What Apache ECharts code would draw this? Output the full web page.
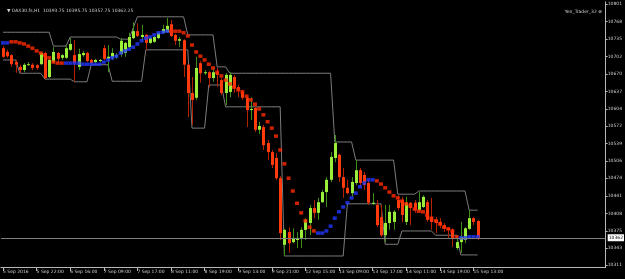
<!DOCTYPE html>
<html><head><meta charset="utf-8">
<script src="https://cdn.jsdelivr.net/npm/echarts@6/dist/echarts.min.js"></script>
<style>html,body{margin:0;padding:0;background:#000;}#c{width:625px;height:279px;}</style>
</head><body><div id="c"></div>
<script>
const _ = null;
const xLabels = ["5 Sep 2016","5 Sep 22:00","6 Sep 16:00","7 Sep 09:00","7 Sep 17:00","8 Sep 11:00","8 Sep 19:00","9 Sep 13:00","9 Sep 21:00","12 Sep 15:00","13 Sep 09:00","13 Sep 17:00","14 Sep 11:00","14 Sep 19:00","15 Sep 13:00"];
const labelStep = 8;
const totalSlots = 144;
const yLabels = [10801,10768,10735,10702,10670,10637,10604,10572,10539,10506,10474,10441,10408,10375,10343,10311];
const headerText = "▼ DAX30.fs,H1  10393.75 10395.75 10357.75 10362.25";
const indicatorName = "Yen_Trader_32 ⊗";
const bidPrice = 10362.25;

const openP = [10718,10711,10705,10692,10683,10677,10687,10687,10686,10688,
10709,10664,10692,10709,10700,10700,10715,10705,10683,10705,
10709,10696,10692,10694,10718,10698,10700,10702,10707,10709,
10720,10737,10750,10739,10743,10728,10730,10737,10747,10748,
10763,10743,10732,10733,10687,10634,10625,10690,10671,10673,
10662,10673,10658,10634,10636,10664,10645,10636,10625,10602,
10606,10565,10570,10540,10523,10512,10474,10349,10373,10354,
10358,10362,10377,10390,10418,10409,10429,10448,10471,10512,
10518,10476,10456,10446,10465,10489,10480,10465,10426,10424,
10401,10367,10390,10392,10433,10433,10392,10428,10428,10414,
10420,10429,10401,10396,10392,10386,10380,10377,10343,10354,
10358,10379,10399,10393.75];
const closeP = [10702,10703,10688,10687,10677,10687,10688,10681,10681,10709,
10662,10696,10711,10698,10705,10718,10726,10690,10707,10709,
10694,10690,10696,10696,10698,10702,10709,10705,10732,10728,
10739,10750,10741,10743,10728,10737,10739,10747,10754,10760,
10741,10732,10735,10687,10634,10621,10681,10671,10673,10662,
10673,10668,10634,10668,10668,10643,10640,10625,10602,10604,
10565,10572,10536,10523,10499,10474,10371,10377,10352,10362,
10362,10377,10396,10418,10409,10429,10448,10471,10514,10540,
10476,10456,10446,10467,10489,10465,10461,10428,10428,10386,
10367,10390,10411,10411,10418,10405,10428,10418,10414,10429,
10439,10396,10392,10390,10386,10380,10377,10362,10354,10364,
10380,10399,10392,10362.25];
const highP = [10722,10715,10707,10696,10687,10690,10692,10690,10688,10711,
10711,10698,10720,10711,10707,10722,10737,10733,10717,10713,
10711,10698,10698,10698,10724,10724,10718,10709,10737,10730,
10747,10767,10765,10762,10745,10739,10741,10748,10762,10775,
10771,10745,10739,10735,10688,10664,10702,10694,10677,10675,
10681,10681,10662,10671,10673,10668,10649,10640,10628,10626,
10611,10580,10574,10546,10527,10521,10478,10379,10382,10380,
10373,10382,10399,10424,10433,10437,10452,10476,10523,10555,
10520,10493,10471,10476,10508,10493,10486,10471,10446,10433,
10424,10424,10424,10414,10442,10439,10439,10429,10433,10448,
10442,10433,10437,10401,10399,10390,10382,10380,10367,10392,
10382,10414,10401,10395.75];
const lowP = [10700,10700,10683,10672,10672,10673,10685,10677,10677,10687,
10660,10662,10690,10690,10696,10698,10713,10655,10677,10702,
10692,10688,10690,10692,10696,10673,10696,10698,10702,10702,
10718,10735,10739,10730,10715,10726,10728,10735,10745,10747,
10739,10724,10720,10664,10589,10574,10621,10653,10668,10645,
10655,10645,10630,10611,10626,10634,10626,10621,10570,10583,
10561,10557,10527,10508,10493,10471,10358,10328,10334,10352,
10343,10343,10358,10367,10399,10396,10428,10420,10467,10504,
10467,10437,10444,10439,10461,10458,10452,10424,10424,10382,
10364,10354,10377,10377,10414,10392,10386,10386,10409,10412,
10418,10392,10377,10371,10380,10373,10362,10345,10339,10334,
10352,10377,10386,10357.75];

const redTrail = [_,_,10730,10730,10728,10726,10722,10718,10713,10709,
10705,10700,10692,10690,10690,_,_,_,_,_,
_,_,_,_,_,_,_,_,_,_,
_,_,_,_,_,_,_,_,_,_,
10750,10750,10750,10747,10741,10724,10711,10703,10696,10688,
10681,10673,10666,10658,10651,10645,10640,10636,10628,10621,
10613,10604,10593,10580,10568,10553,10527,10501,10474,10450,
10427,10409,10394,10382,10375,_,_,_,_,_,
_,_,_,_,_,_,_,_,_,10469,
10463,10456,10448,10441,10437,10431,10426,10422,10416,10412,
10411,10405,10399,10394,10388,10382,10379,10375,10364,_,
_,_,_,_];
const blueTrail = [10728,10728,_,_,_,_,_,_,_,_,
_,_,_,_,_,10690,10690,10690,10690,10688,
10688,10688,10688,10688,10692,10696,10700,10703,10709,10713,
10716,10720,10726,10732,10737,10739,10743,10747,10748,10750,
_,_,_,_,_,_,_,_,_,_,
_,_,_,_,_,_,_,_,_,_,
_,_,_,_,_,_,_,_,_,_,
_,_,_,_,_,10371,10371,10375,10384,10399,
10411,10420,10428,10437,10446,10458,10465,10471,10471,_,
_,_,_,_,_,_,_,_,_,_,
_,_,_,_,_,_,_,_,_,10362,
10362,10364,10364,10364];
const upperBand = [10748,10748,10748,10748,10748,10748,10748,10748,10748,10748,
10748,10748,10722,10722,10722,10722,10739,10739,10739,10739,
10739,10739,10739,10739,10739,10739,10739,10739,10735,10735,
10735,10756,10777,10777,10777,10777,10777,10777,10777,10777,
10777,10777,10777,10777,10743,10743,10743,10743,10743,10743,
10743,10683,10683,10683,10671,10671,10671,10671,10671,10671,
10671,10671,10671,10671,10671,10671,10671,10671,10671,10671,
10671,10671,10671,10671,10671,10671,10671,10671,10671,10542,
10542,10542,10542,10542,10508,10508,10508,10508,10508,10508,
10508,10508,10508,10508,10444,10444,10444,10444,10444,10450,
10450,10450,10450,10450,10450,10450,10450,10450,10450,10450,
10450,10414,10414,10414];
const lowerBand = [10696,10696,10696,10696,10671,10671,10671,10671,10671,10671,
10660,10660,10660,10660,10660,10660,10660,10655,10655,10655,
10655,10687,10687,10687,10687,10687,10656,10656,10656,10656,
10656,10656,10656,10656,10715,10715,10715,10715,10715,10715,
10715,10715,10715,10715,10715,10568,10568,10568,10568,10649,
10649,10649,10649,10608,10608,10608,10608,10608,10608,10608,
10608,10608,10608,10608,10608,10608,10608,10328,10328,10328,
10328,10328,10328,10328,10328,10328,10328,10328,10328,10328,
10328,10328,10426,10426,10426,10426,10426,10426,10426,10426,
10426,10350,10350,10350,10350,10375,10375,10375,10375,10375,
10375,10375,10375,10367,10367,10367,10367,10367,10367,10330,
10330,10330,10330,10330];

const categories = Array.from({length: totalSlots}, (v, i) =>
  (i % labelStep === 0 && i / labelStep < xLabels.length) ? xLabels[i / labelStep] : '');
const isLabelIdx = (i) => i % labelStep === 0 && i / labelStep < xLabels.length;

const bullBody = '#9BEF3A', bullWick = '#3F8F17', bearBody = '#FF3A0C', bearWick = '#B52000';
const axisCol = '#B8B8B8', textCol = '#D0D0D0', bandCol = '#7C7C7C';

const chart = echarts.init(document.getElementById('c'), null, {renderer: 'canvas'});
chart.setOption({
  animation: false,
  backgroundColor: '#000',
  textStyle: {fontFamily: 'Liberation Sans'},
  title: [
    {text: headerText, left: 2, top: 3, textStyle: {color: textCol, fontSize: 4.5, fontWeight: 'normal', fontFamily: 'DejaVu Sans'}},
    {text: indicatorName, right: 18, top: 4, textStyle: {color: textCol, fontSize: 4.5, fontWeight: 'normal', fontFamily: 'DejaVu Sans'}}
  ],
  grid: {left: 0, right: 17, top: 2, bottom: 12, containLabel: false},
  xAxis: {
    type: 'category', data: categories, boundaryGap: true,
    axisLine: {lineStyle: {color: axisCol, width: 1}},
    axisTick: {show: true, alignWithLabel: true, length: 4, interval: (i) => isLabelIdx(i), lineStyle: {color: axisCol}},
    axisLabel: {interval: (i) => isLabelIdx(i), align: 'left', margin: 2, color: textCol, fontSize: 4.5, fontFamily: 'DejaVu Sans'},
    splitLine: {show: false}
  },
  yAxis: {
    type: 'value', position: 'right', min: 10307.35, max: 10804.75, scale: true,
    axisLine: {show: true, lineStyle: {color: axisCol, width: 1}},
    axisTick: {show: true, length: 2, customValues: yLabels, lineStyle: {color: axisCol}},
    axisLabel: {customValues: yLabels, formatter: (v) => String(Math.round(v)), margin: 2, color: textCol, fontSize: 4.5, fontFamily: 'DejaVu Sans'},
    splitLine: {show: false}
  },
  series: [
    {type: 'line', data: upperBand, symbol: 'none', lineStyle: {color: bandCol, width: 1}, z: 1},
    {type: 'line', data: lowerBand, symbol: 'none', lineStyle: {color: bandCol, width: 1}, z: 1,
      markLine: {silent: true, symbol: 'none', data: [{yAxis: bidPrice}],
        lineStyle: {color: '#7E7E7E', width: 1, type: 'solid'},
        label: {show: true, position: 'end', distance: 2, formatter: () => String(Math.floor(bidPrice)),
          backgroundColor: '#FFFFFF', color: '#000', fontSize: 4.5, padding: [1, 1], fontFamily: 'DejaVu Sans'}}},
    {type: 'custom', z: 3,
      renderItem: function (params, api) {
        const i = api.value(0), o = api.value(1), c = api.value(2), l = api.value(3), h = api.value(4);
        const pO = api.coord([i, o]), pC = api.coord([i, c]), pL = api.coord([i, l]), pH = api.coord([i, h]);
        const bull = c >= o;
        const x = Math.round(pO[0]);
        const top = Math.min(pO[1], pC[1]);
        const ht = Math.max(1, Math.abs(pO[1] - pC[1]));
        return {type: 'group', children: [
          {type: 'line', shape: {x1: x + 0.5, y1: pH[1], x2: x + 0.5, y2: pL[1]}, style: {stroke: bull ? bullWick : bearWick, lineWidth: 1}},
          {type: 'rect', shape: {x: x - 1, y: top, width: 3, height: ht}, style: {fill: bull ? bullBody : bearBody}}
        ]};
      },
      encode: {x: 0, y: [1, 2, 3, 4]},
      data: openP.map((o, i) => [i, o, closeP[i], lowP[i], highP[i]])
    },
    {type: 'scatter', data: redTrail, symbol: 'rect', symbolSize: [4, 3.5], itemStyle: {color: '#FF2A00'}, z: 4},
    {type: 'scatter', data: blueTrail, symbol: 'rect', symbolSize: [4, 3.5], itemStyle: {color: '#2038FF'}, z: 4}
  ]
});
</script></body></html>
